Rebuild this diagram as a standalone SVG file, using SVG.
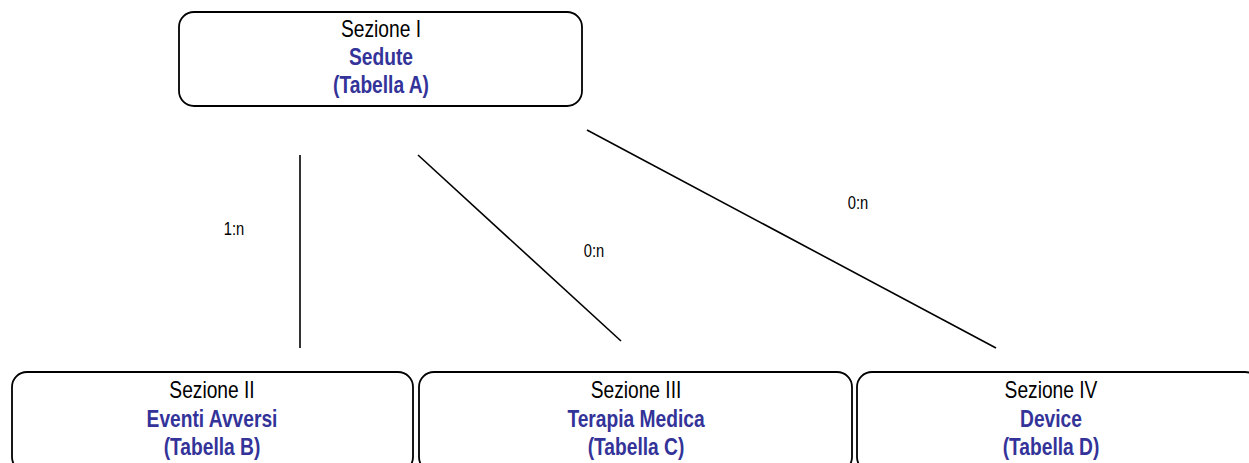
<svg xmlns="http://www.w3.org/2000/svg" width="1249" height="463" viewBox="0 0 1249 463">
<style>
.box{fill:#fff;stroke:#000;stroke-width:1.8}
.t{font-family:"Liberation Sans",Arial,sans-serif;font-size:24px;text-anchor:middle;fill:#000}
.b{font-weight:bold;fill:#333399}
.lbl{font-family:"Liberation Sans",Arial,sans-serif;font-size:18px;text-anchor:middle;fill:#000}
.c{stroke:#000;stroke-width:1.6;fill:none}
</style>
<rect width="1249" height="463" fill="#fff"/>
<g id="connectors">
<line class="c" x1="300" y1="155" x2="300" y2="348"/>
<line class="c" x1="418" y1="155" x2="621" y2="341"/>
<line class="c" x1="587" y1="130" x2="996" y2="348"/>
<text class="lbl" transform="translate(234,235) scale(0.82,1)">1:n</text>
<text class="lbl" transform="translate(594,257) scale(0.82,1)">0:n</text>
<text class="lbl" transform="translate(858,209) scale(0.82,1)">0:n</text>
</g>
<g id="nodeA">
<rect class="box" x="179" y="12" width="403" height="94" rx="15"/>
<text class="t" transform="translate(381,37) scale(0.8,1)">Sezione I</text>
<text class="t b" transform="translate(381,65) scale(0.8,1)">Sedute</text>
<text class="t b" transform="translate(381,93) scale(0.8,1)">(Tabella A)</text>
</g>
<g id="nodeB">
<rect class="box" x="12" y="372" width="401" height="100" rx="15"/>
<text class="t" transform="translate(212,398) scale(0.8,1)">Sezione II</text>
<text class="t b" transform="translate(212,427) scale(0.8,1)">Eventi Avversi</text>
<text class="t b" transform="translate(212,455) scale(0.8,1)">(Tabella B)</text>
</g>
<g id="nodeC">
<rect class="box" x="419" y="372" width="433" height="100" rx="15"/>
<text class="t" transform="translate(636,398) scale(0.8,1)">Sezione III</text>
<text class="t b" transform="translate(636,427) scale(0.8,1)">Terapia Medica</text>
<text class="t b" transform="translate(636,455) scale(0.8,1)">(Tabella C)</text>
</g>
<g id="nodeD">
<rect class="box" x="857" y="372" width="403" height="100" rx="15"/>
<text class="t" transform="translate(1051,398) scale(0.8,1)">Sezione IV</text>
<text class="t b" transform="translate(1051,427) scale(0.8,1)">Device</text>
<text class="t b" transform="translate(1051,455) scale(0.8,1)">(Tabella D)</text>
</g>
</svg>
